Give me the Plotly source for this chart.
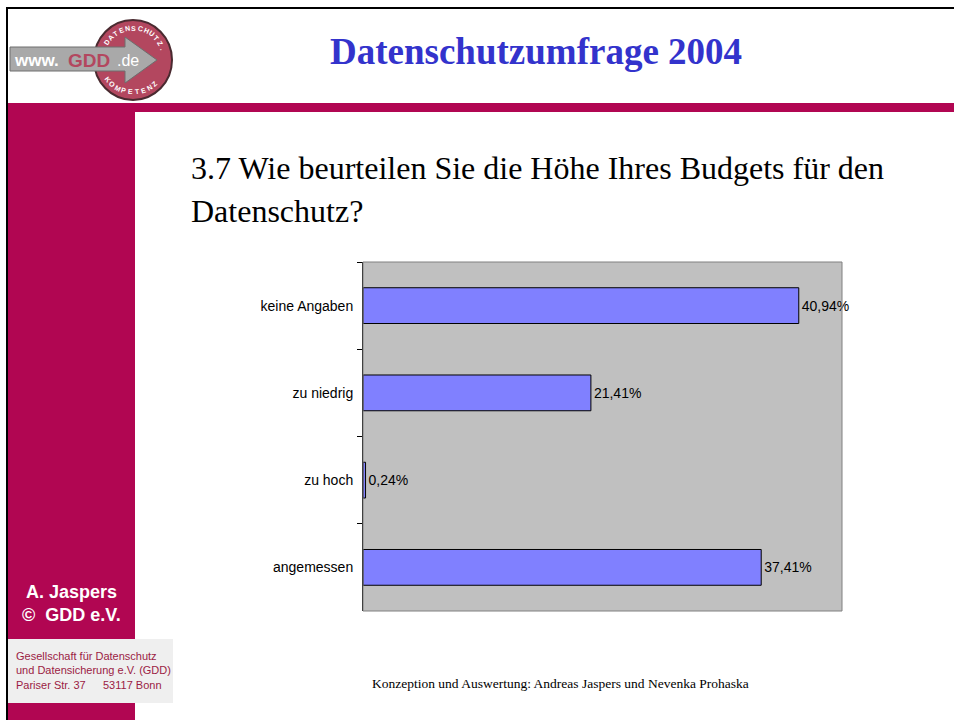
import math
import plotly.graph_objects as go

# chart data
categories = ["keine Angaben", "zu niedrig", "zu hoch", "angemessen"]
shares = [40.94, 21.41, 0.24, 37.41]
value_labels = [f"{v:.2f}".replace(".", ",") + "%" for v in shares]

title_text = "Datenschutzumfrage 2004"
question_lines = ["3.7 Wie beurteilen Sie die Höhe Ihres Budgets für den", "Datenschutz?"]
footer_text = "Konzeption und Auswertung: Andreas Jaspers und Nevenka Prohaska"

W, H = 954, 720
# plot area in pixels
PL, PR, PT, PB = 363, 842, 262, 611

MAGENTA = "#B10652"
ADDR = "#9B1B44"
SERIF = "Liberation Serif, Times New Roman, serif"
SANS = "Liberation Sans, Arial, sans-serif"
NARROW = "Liberation Sans Narrow, Arial Narrow, Liberation Sans, sans-serif"


def px(x):
    return (x - PL) / (PR - PL)


def py(y):
    return (PB - y) / (PB - PT)


def rect(x0, y0, x1, y1, fill, line=None, lw=0, layer="above"):
    return dict(type="rect", xref="paper", yref="paper",
                x0=px(x0), x1=px(x1), y0=py(y1), y1=py(y0),
                fillcolor=fill, line=dict(color=line or fill, width=lw), layer=layer)


def text(x, y, s, size, color="black", family=SANS, xanchor="center", angle=0, bold=False):
    if bold:
        s = f"<b>{s}</b>"
    return dict(xref="paper", yref="paper", x=px(x), y=py(y), text=s, showarrow=False,
                xanchor=xanchor, yanchor="middle", textangle=angle, align="left",
                font=dict(size=size, color=color, family=family))


fig = go.Figure(go.Bar(
    x=shares, y=categories, orientation="h", width=0.41,
    marker=dict(color="#8080FF", line=dict(color="black", width=1)),
    text=value_labels, textposition="outside", constraintext="none", cliponaxis=False,
    textfont=dict(size=14, color="black", family=SANS),
))

shapes = [
    # slide frame
    dict(type="line", xref="paper", yref="paper", x0=px(6), x1=px(954), y0=py(8), y1=py(8),
         line=dict(color="black", width=2)),
    dict(type="line", xref="paper", yref="paper", x0=px(7), x1=px(7), y0=py(7), y1=py(720),
         line=dict(color="black", width=2)),
    # magenta band and sidebar
    rect(8, 103, 954, 112, MAGENTA),
    rect(8, 103, 135, 720, MAGENTA),
    # address box
    rect(8, 639, 173, 703, "#EFEFEF"),
    # plot border
    rect(PL, PT, PR, PB, "rgba(0,0,0,0)", "#808080", 1),
    # logo circle
    dict(type="circle", xref="paper", yref="paper", x0=px(94), x1=px(172), y0=py(100), y1=py(20),
         fillcolor="#B3475F", line=dict(color="#4A2A30", width=2)),
]

# logo arrow
arrow_pts = [(10, 47), (125, 47), (125, 37), (157, 60), (125, 83), (125, 71), (10, 71)]
path = "M " + " L ".join(f"{px(x)},{py(y)}" for x, y in arrow_pts) + " Z"
shapes.append(dict(type="path", xref="paper", yref="paper", path=path,
                   fillcolor="#A9A9A9", line=dict(color="#6E6E6E", width=1)))

annotations = [
    text(536, 51, title_text, 37, "#3333CC", SERIF, bold=True),
    text(189, 168, question_lines[0], 32, "black", SERIF, xanchor="left"),
    text(189, 211, question_lines[1], 32, "black", SERIF, xanchor="left"),
    text(71, 592, "A. Jaspers", 18, "white", SANS, bold=True),
    text(71, 615, "©  GDD e.V.", 18, "white", SANS, bold=True),
    text(14, 663, "Gesellschaft für Datenschutz<br>und Datensicherung e.V. (GDD)", 11, ADDR, NARROW,
         xanchor="left"),
    text(14, 685, "Pariser Str. 37", 11, ADDR, NARROW, xanchor="left"),
    text(164, 685, "53117 Bonn", 11, ADDR, NARROW, xanchor="right"),
    text(560, 683, footer_text, 13.5, "black", SERIF),
    # logo lettering
    text(36, 60, "www.", 17, "white", NARROW, bold=True),
    text(89, 60, "GDD", 19, "#B3475F", SANS, bold=True),
    text(128, 60, ".de", 16, "white", NARROW),
]

# curved lettering around the logo circle
cx, cy, r = 133, 60, 32
top_word = "DATENSCHUTZ."
for i, ch in enumerate(top_word):
    a = 146 - i * (126 / (len(top_word) - 1))
    annotations.append(text(cx + r * math.cos(math.radians(a)), cy - r * math.sin(math.radians(a)),
                            ch, 7, "white", SANS, angle=90 - a, bold=True))
bottom_word = "KOMPETENZ"
for i, ch in enumerate(bottom_word):
    a = 218 + i * (95 / (len(bottom_word) - 1))
    annotations.append(text(cx + r * math.cos(math.radians(a)), cy - r * math.sin(math.radians(a)),
                            ch, 7, "white", SANS, angle=270 - a, bold=True))

fig.update_layout(
    width=W, height=H,
    margin=dict(l=PL, r=W - PR, t=PT, b=H - PB, pad=0),
    paper_bgcolor="white", plot_bgcolor="#C0C0C0",
    showlegend=False,
    shapes=shapes, annotations=annotations,
    xaxis=dict(range=[0, 45], showgrid=False, zeroline=False, showticklabels=False,
               showline=False, fixedrange=True),
    yaxis=dict(autorange="reversed", showgrid=False, zeroline=False,
               showline=True, linecolor="black", linewidth=1,
               ticks="outside", ticklen=5, tickcolor="black", tickson="boundaries",
               tickfont=dict(size=14, color="black", family=SANS), ticklabelstandoff=6),
)

# drop the default 8px page margin so the slide sits at the window corner
fig.write_html("out.html", config={"displayModeBar": False},
               post_script="document.body.style.margin='0';")
